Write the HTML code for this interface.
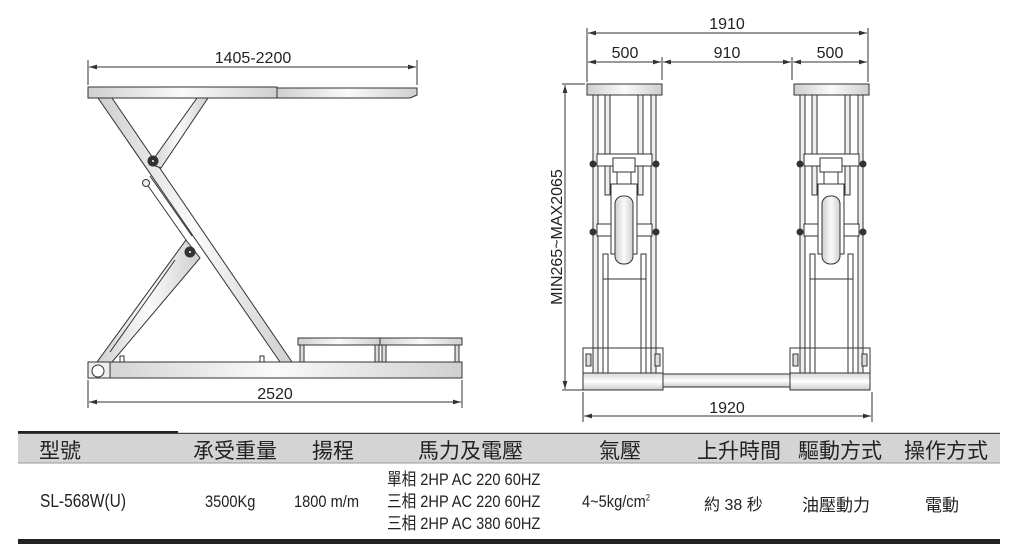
<!DOCTYPE html>
<html><head><meta charset="utf-8"><style>
html,body{margin:0;padding:0;background:#fff;}
body{width:1016px;height:556px;position:relative;overflow:hidden;font-family:"Liberation Sans","Noto Sans CJK TC",sans-serif;}
svg{position:absolute;left:0;top:0;}
.t{position:absolute;font-family:"Liberation Sans","Noto Sans CJK TC",sans-serif;color:#222;white-space:nowrap;}
.n{transform-origin:0 0;transform:scaleX(0.86);}
</style></head><body>
<svg width="1016" height="556" viewBox="0 0 1016 556">
<defs>
<linearGradient id="g" x1="0" x2="1" y1="0" y2="0"><stop offset="0" stop-color="#cfcfcf"/><stop offset="0.5" stop-color="#fafafa"/><stop offset="1" stop-color="#cfcfcf"/></linearGradient>
<linearGradient id="gv" x1="0" x2="0" y1="0" y2="1"><stop offset="0" stop-color="#d8d8d8"/><stop offset="0.5" stop-color="#ffffff"/><stop offset="1" stop-color="#cccccc"/></linearGradient>
<marker id="a" viewBox="0 0 10 6" refX="10" refY="3" markerWidth="8" markerHeight="5" orient="auto-start-reverse"><path d="M0,0L10,3L0,6z" fill="#333"/></marker>
<g id="unit" stroke="#333" stroke-width="1" fill="url(#g)">
<rect x="4" y="0" width="75" height="11"/>
<rect x="10" y="11" width="5" height="285" fill="#eee"/>
<rect x="68" y="11" width="5" height="285" fill="#eee"/>
<rect x="22" y="11" width="5" height="100" fill="#eee"/>
<rect x="55" y="11" width="5" height="100" fill="#eee"/>
<rect x="20" y="170" width="5" height="128" fill="#fff"/>
<rect x="58" y="170" width="5" height="128" fill="#fff"/>
<rect x="14" y="70" width="55" height="12" fill="#fff"/>
<rect x="14" y="140" width="55" height="12" fill="#fff"/>
<rect x="30" y="74" width="22" height="14" fill="#fff"/>
<rect x="34" y="88" width="14" height="20" fill="#fff"/>
<rect x="28" y="100" width="26" height="70" fill="#fff"/>
<rect x="32" y="112" width="18" height="68" rx="8" fill="url(#g)"/>
<circle cx="10" cy="80" r="3" fill="#333"/><circle cx="73" cy="80" r="3" fill="#333"/>
<circle cx="10" cy="148" r="3" fill="#333"/><circle cx="73" cy="148" r="3" fill="#333"/>
<line x1="20" y1="195" x2="63" y2="195"/>
<rect x="0" y="264" width="80" height="30" fill="none"/>
<rect x="0" y="289" width="80" height="17" fill="url(#gv)"/>
<rect x="3" y="270" width="5" height="12" fill="#ddd"/><rect x="72" y="270" width="5" height="12" fill="#ddd"/>
</g>
</defs>
<g stroke="#333" stroke-width="1">
<line x1="88" y1="60" x2="88" y2="85"/><line x1="417" y1="60" x2="417" y2="85"/>
<line x1="89" y1="67" x2="416" y2="67" marker-start="url(#a)" marker-end="url(#a)"/>
<polygon points="98,98 112,98 292,362 280,362" fill="url(#g)"/>
<polygon points="197,98 208,98 161,168 150,164" fill="url(#g)"/>
<polygon points="186,240 200,258 112,362 97,362" fill="url(#g)"/>
<line x1="144" y1="180" x2="186" y2="240"/><line x1="150" y1="176" x2="192" y2="236"/>
<line x1="175" y1="260" x2="110" y2="352"/>
<circle cx="153" cy="161" r="5" fill="#333"/><circle cx="153" cy="161" r="1.5" fill="#fff"/>
<circle cx="190" cy="252" r="5" fill="#333"/><circle cx="190" cy="252" r="1.5" fill="#fff"/>
<circle cx="146" cy="183" r="3.5" fill="#eee"/>
<rect x="88" y="87" width="189" height="11" fill="url(#g)"/>
<polygon points="277,88 417,88 417,95 410,98 277,98" fill="url(#g)"/>
<rect x="88" y="362" width="374" height="16" fill="url(#g)"/>
<rect x="88" y="362" width="22" height="16" fill="#eee"/>
<circle cx="98" cy="371" r="6" fill="#fff"/>
<rect x="120" y="356" width="4" height="6" fill="#fff"/><rect x="260" y="356" width="4" height="6" fill="#fff"/>
<rect x="298" y="338" width="82" height="7" fill="url(#g)"/>
<rect x="380" y="338" width="82" height="7" fill="url(#g)"/>
<rect x="300" y="345" width="4" height="17" fill="#ddd"/><rect x="375" y="345" width="4" height="17" fill="#ddd"/>
<rect x="382" y="345" width="4" height="17" fill="#ddd"/><rect x="455" y="345" width="4" height="17" fill="#ddd"/>
<line x1="88" y1="380" x2="88" y2="408"/><line x1="462" y1="380" x2="462" y2="408"/>
<line x1="89" y1="402" x2="461" y2="402" marker-start="url(#a)" marker-end="url(#a)"/>
<line x1="587" y1="28" x2="587" y2="82"/><line x1="868" y1="28" x2="868" y2="82"/>
<line x1="662" y1="57" x2="662" y2="80"/><line x1="792" y1="57" x2="792" y2="80"/>
<line x1="588" y1="33" x2="867" y2="33" marker-start="url(#a)" marker-end="url(#a)"/>
<line x1="588" y1="62" x2="661" y2="62" marker-start="url(#a)" marker-end="url(#a)"/>
<line x1="663" y1="62" x2="791" y2="62" marker-start="url(#a)" marker-end="url(#a)"/>
<line x1="793" y1="62" x2="867" y2="62" marker-start="url(#a)" marker-end="url(#a)"/>
<line x1="562" y1="84" x2="585" y2="84"/><line x1="562" y1="390" x2="585" y2="390"/>
<line x1="565" y1="85" x2="565" y2="389" marker-start="url(#a)" marker-end="url(#a)"/>
<rect x="663" y="374" width="129" height="13" fill="url(#gv)"/>
<use href="#unit" x="583" y="84"/>
<use href="#unit" x="790" y="84"/>
<line x1="583" y1="392" x2="583" y2="422"/><line x1="872" y1="392" x2="872" y2="422"/>
<line x1="584" y1="416" x2="871" y2="416" marker-start="url(#a)" marker-end="url(#a)"/>
</g>
<rect x="18" y="432" width="982" height="31" fill="#d4d4d4"/>
<rect x="18" y="431" width="160" height="3" fill="#222"/>
<line x1="18" y1="433.5" x2="1000" y2="433.5" stroke="#444" stroke-width="1"/>
<line x1="18" y1="463" x2="1000" y2="463" stroke="#999" stroke-width="1"/>
<rect x="18" y="539" width="982" height="5" fill="#222"/>
<text x="253" y="63" font-size="16" text-anchor="middle" fill="#222" font-family="Liberation Sans">1405-2200</text>
<text x="275" y="399" font-size="16" text-anchor="middle" fill="#222" font-family="Liberation Sans">2520</text>
<text x="727" y="29" font-size="16" text-anchor="middle" fill="#222" font-family="Liberation Sans">1910</text>
<text x="625" y="58" font-size="16" text-anchor="middle" fill="#222" font-family="Liberation Sans">500</text>
<text x="727" y="58" font-size="16" text-anchor="middle" fill="#222" font-family="Liberation Sans">910</text>
<text x="830" y="58" font-size="16" text-anchor="middle" fill="#222" font-family="Liberation Sans">500</text>
<text x="727" y="413" font-size="16" text-anchor="middle" fill="#222" font-family="Liberation Sans">1920</text>
<text transform="translate(562,237) rotate(-90)" font-size="16" text-anchor="middle" fill="#222" font-family="Liberation Sans">MIN265~MAX2065</text>
</svg>
<div class="t" style="left:39px;top:435px;font-size:21px;">型號</div>
<div class="t" style="left:193px;top:435px;font-size:21px;">承受重量</div>
<div class="t" style="left:312px;top:435px;font-size:21px;">揚程</div>
<div class="t" style="left:418px;top:435px;font-size:21px;">馬力及電壓</div>
<div class="t" style="left:599px;top:435px;font-size:21px;">氣壓</div>
<div class="t" style="left:697px;top:435px;font-size:21px;">上升時間</div>
<div class="t" style="left:798px;top:435px;font-size:21px;">驅動方式</div>
<div class="t" style="left:904px;top:435px;font-size:21px;">操作方式</div>
<div class="t n" style="left:40px;top:491px;font-size:18px;">SL-568W(U)</div>
<div class="t n" style="left:205px;top:492px;font-size:17px;">3500Kg</div>
<div class="t n" style="left:294px;top:492px;font-size:17px;">1800 m/m</div>
<div class="t n" style="left:387px;top:469px;font-size:17px;line-height:22px;">單相 2HP AC 220 60HZ<br>三相 2HP AC 220 60HZ<br>三相 2HP AC 380 60HZ</div>
<div class="t n" style="left:582px;top:492px;font-size:17px;">4~5kg/cm<sup style="font-size:9px">2</sup></div>
<div class="t" style="left:704px;top:491px;font-size:16px;">約 38 秒</div>
<div class="t" style="left:802px;top:491px;font-size:17px;">油壓動力</div>
<div class="t" style="left:925px;top:491px;font-size:17px;">電動</div>
</body></html>
